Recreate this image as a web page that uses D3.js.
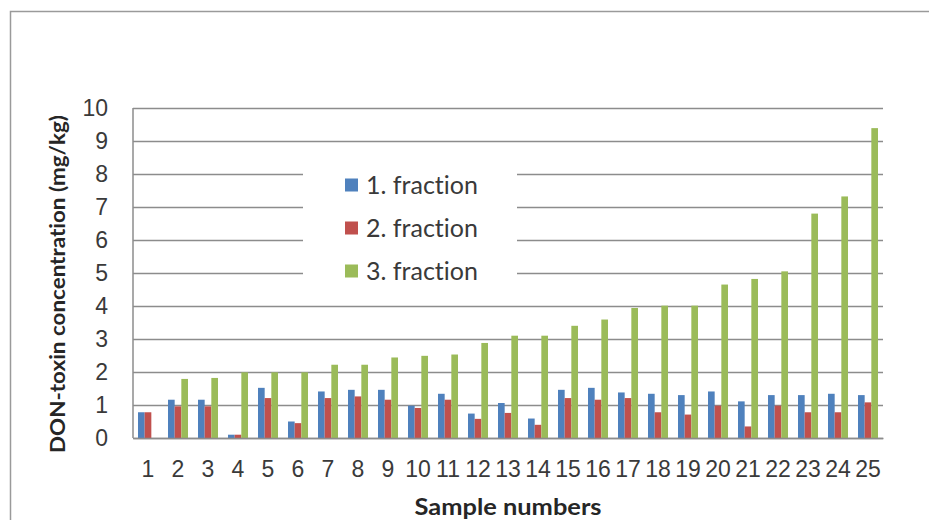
<!DOCTYPE html>
<html>
<head>
<meta charset="utf-8">
<script src="https://cdn.jsdelivr.net/npm/d3@7"></script>
<style>
  body { margin: 0; background: #fff; }
  svg { display: block; font-family: Lato, "Open Sans", sans-serif; font-variant-ligatures: none; }
</style>
</head>
<body>
<svg id="chart" width="929" height="520"></svg>
<script>
// values (mg/kg)
const samples = ["1","2","3","4","5","6","7","8","9","10","11","12","13","14","15","16","17","18","19","20","21","22","23","24","25"];
const fraction1 = [0.78, 1.16, 1.16, 0.10, 1.52, 0.50, 1.41, 1.46, 1.46, 0.98, 1.34, 0.74, 1.06, 0.59, 1.46, 1.52, 1.38, 1.34, 1.30, 1.41, 1.11, 1.30, 1.30, 1.34, 1.30];
const fraction2 = [0.78, 0.96, 0.96, 0.10, 1.21, 0.45, 1.21, 1.26, 1.16, 0.91, 1.16, 0.58, 0.76, 0.40, 1.21, 1.16, 1.21, 0.78, 0.71, 0.98, 0.35, 0.98, 0.78, 0.78, 1.08];
const fraction3 = [0, 1.79, 1.82, 1.99, 1.99, 1.99, 2.22, 2.22, 2.44, 2.49, 2.53, 2.88, 3.10, 3.10, 3.40, 3.59, 3.94, 4.01, 4.01, 4.65, 4.82, 5.05, 6.80, 7.32, 9.39];
const seriesNames = ["1. fraction", "2. fraction", "3. fraction"];
const yTicks = [0, 1, 2, 3, 4, 5, 6, 7, 8, 9, 10];

const colors = ["#4f81bd", "#c0504d", "#9bbb59"];
const series = [fraction1, fraction2, fraction3];

const svg = d3.select("#chart");
const plotLeft = 133, plotRight = 883, plotTop = 108, plotBottom = 438;

// outer frame (runs off the picture on the right and bottom)
svg.append("rect")
    .attr("x", 10.5).attr("y", 11.5)
    .attr("width", 940).attr("height", 540)
    .attr("fill", "none").attr("stroke", "#9a9a9a").attr("stroke-width", 1.5);

let x = d3.scaleBand().domain(samples).range([plotLeft, plotRight]).padding(0);
let xs = d3.scaleBand().domain(d3.range(3)).range([0, x.bandwidth()]).paddingInner(0).paddingOuter(0.75);
let y = d3.scaleLinear().domain([0, 10]).range([plotBottom, plotTop]);

// gridlines + y labels
let yAxis = svg.append("g")
    .attr("transform", `translate(${plotLeft},0)`)
    .call(d3.axisLeft(y).tickValues(yTicks).tickSize(-(plotRight - plotLeft)).tickPadding(25));
yAxis.select(".domain").remove();
yAxis.selectAll(".tick line")
    .attr("stroke", "#8c8c8c").attr("stroke-width", 1.5);
yAxis.selectAll(".tick text")
    .attr("font-size", 23).attr("fill", "#3a3a3a").attr("x", -25);

// legend background hides part of the gridlines
svg.append("rect")
    .attr("x", 303).attr("y", 150)
    .attr("width", 214).attr("height", 145)
    .attr("fill", "#fff");

// bars
let rows = samples.map((s, i) => ({ s: s, v: series.map(a => a[i]) }));
let groups = svg.append("g").selectAll("g").data(rows).join("g")
    .attr("transform", d => `translate(${x(d.s)},0)`);
groups.selectAll("rect").data(d => d.v).join("rect")
    .attr("x", (d, i) => xs(i))
    .attr("y", d => y(d))
    .attr("width", xs.bandwidth())
    .attr("height", d => y(0) - y(d))
    .attr("fill", (d, i) => colors[i]);

// axis lines
svg.append("line")
    .attr("x1", plotLeft).attr("x2", plotLeft).attr("y1", plotTop).attr("y2", plotBottom)
    .attr("stroke", "#8c8c8c").attr("stroke-width", 1.5);

let xAxis = svg.append("g")
    .attr("transform", `translate(0,${plotBottom})`)
    .call(d3.axisBottom(x).tickSize(0).tickPadding(23));
xAxis.select(".domain").attr("stroke", "#8c8c8c").attr("stroke-width", 1.5);
xAxis.selectAll(".tick text")
    .attr("font-size", 23).attr("fill", "#3a3a3a");

// legend
let legend = svg.append("g").selectAll("g").data(seriesNames).join("g")
    .attr("transform", (d, i) => `translate(345,${185 + i * 43})`);
legend.append("rect")
    .attr("x", 0).attr("y", -6.5).attr("width", 13).attr("height", 13)
    .attr("fill", (d, i) => colors[i]);
legend.append("text")
    .attr("x", 21).attr("dy", "0.35em")
    .attr("font-size", 25).attr("fill", "#3a3a3a")
    .text(d => d);

// axis titles
svg.append("text")
    .attr("transform", "translate(65,284) rotate(-90)")
    .attr("text-anchor", "middle")
    .attr("font-size", 21).attr("font-weight", "bold").attr("fill", "#262626")
    .attr("textLength", 338).attr("lengthAdjust", "spacingAndGlyphs")
    .text("DON-toxin concentration (mg/kg)");

svg.append("text")
    .attr("x", 508).attr("y", 515)
    .attr("text-anchor", "middle")
    .attr("font-size", 22).attr("font-weight", "bold").attr("fill", "#262626")
    .attr("textLength", 187).attr("lengthAdjust", "spacingAndGlyphs")
    .text("Sample numbers");
</script>
</body>
</html>
